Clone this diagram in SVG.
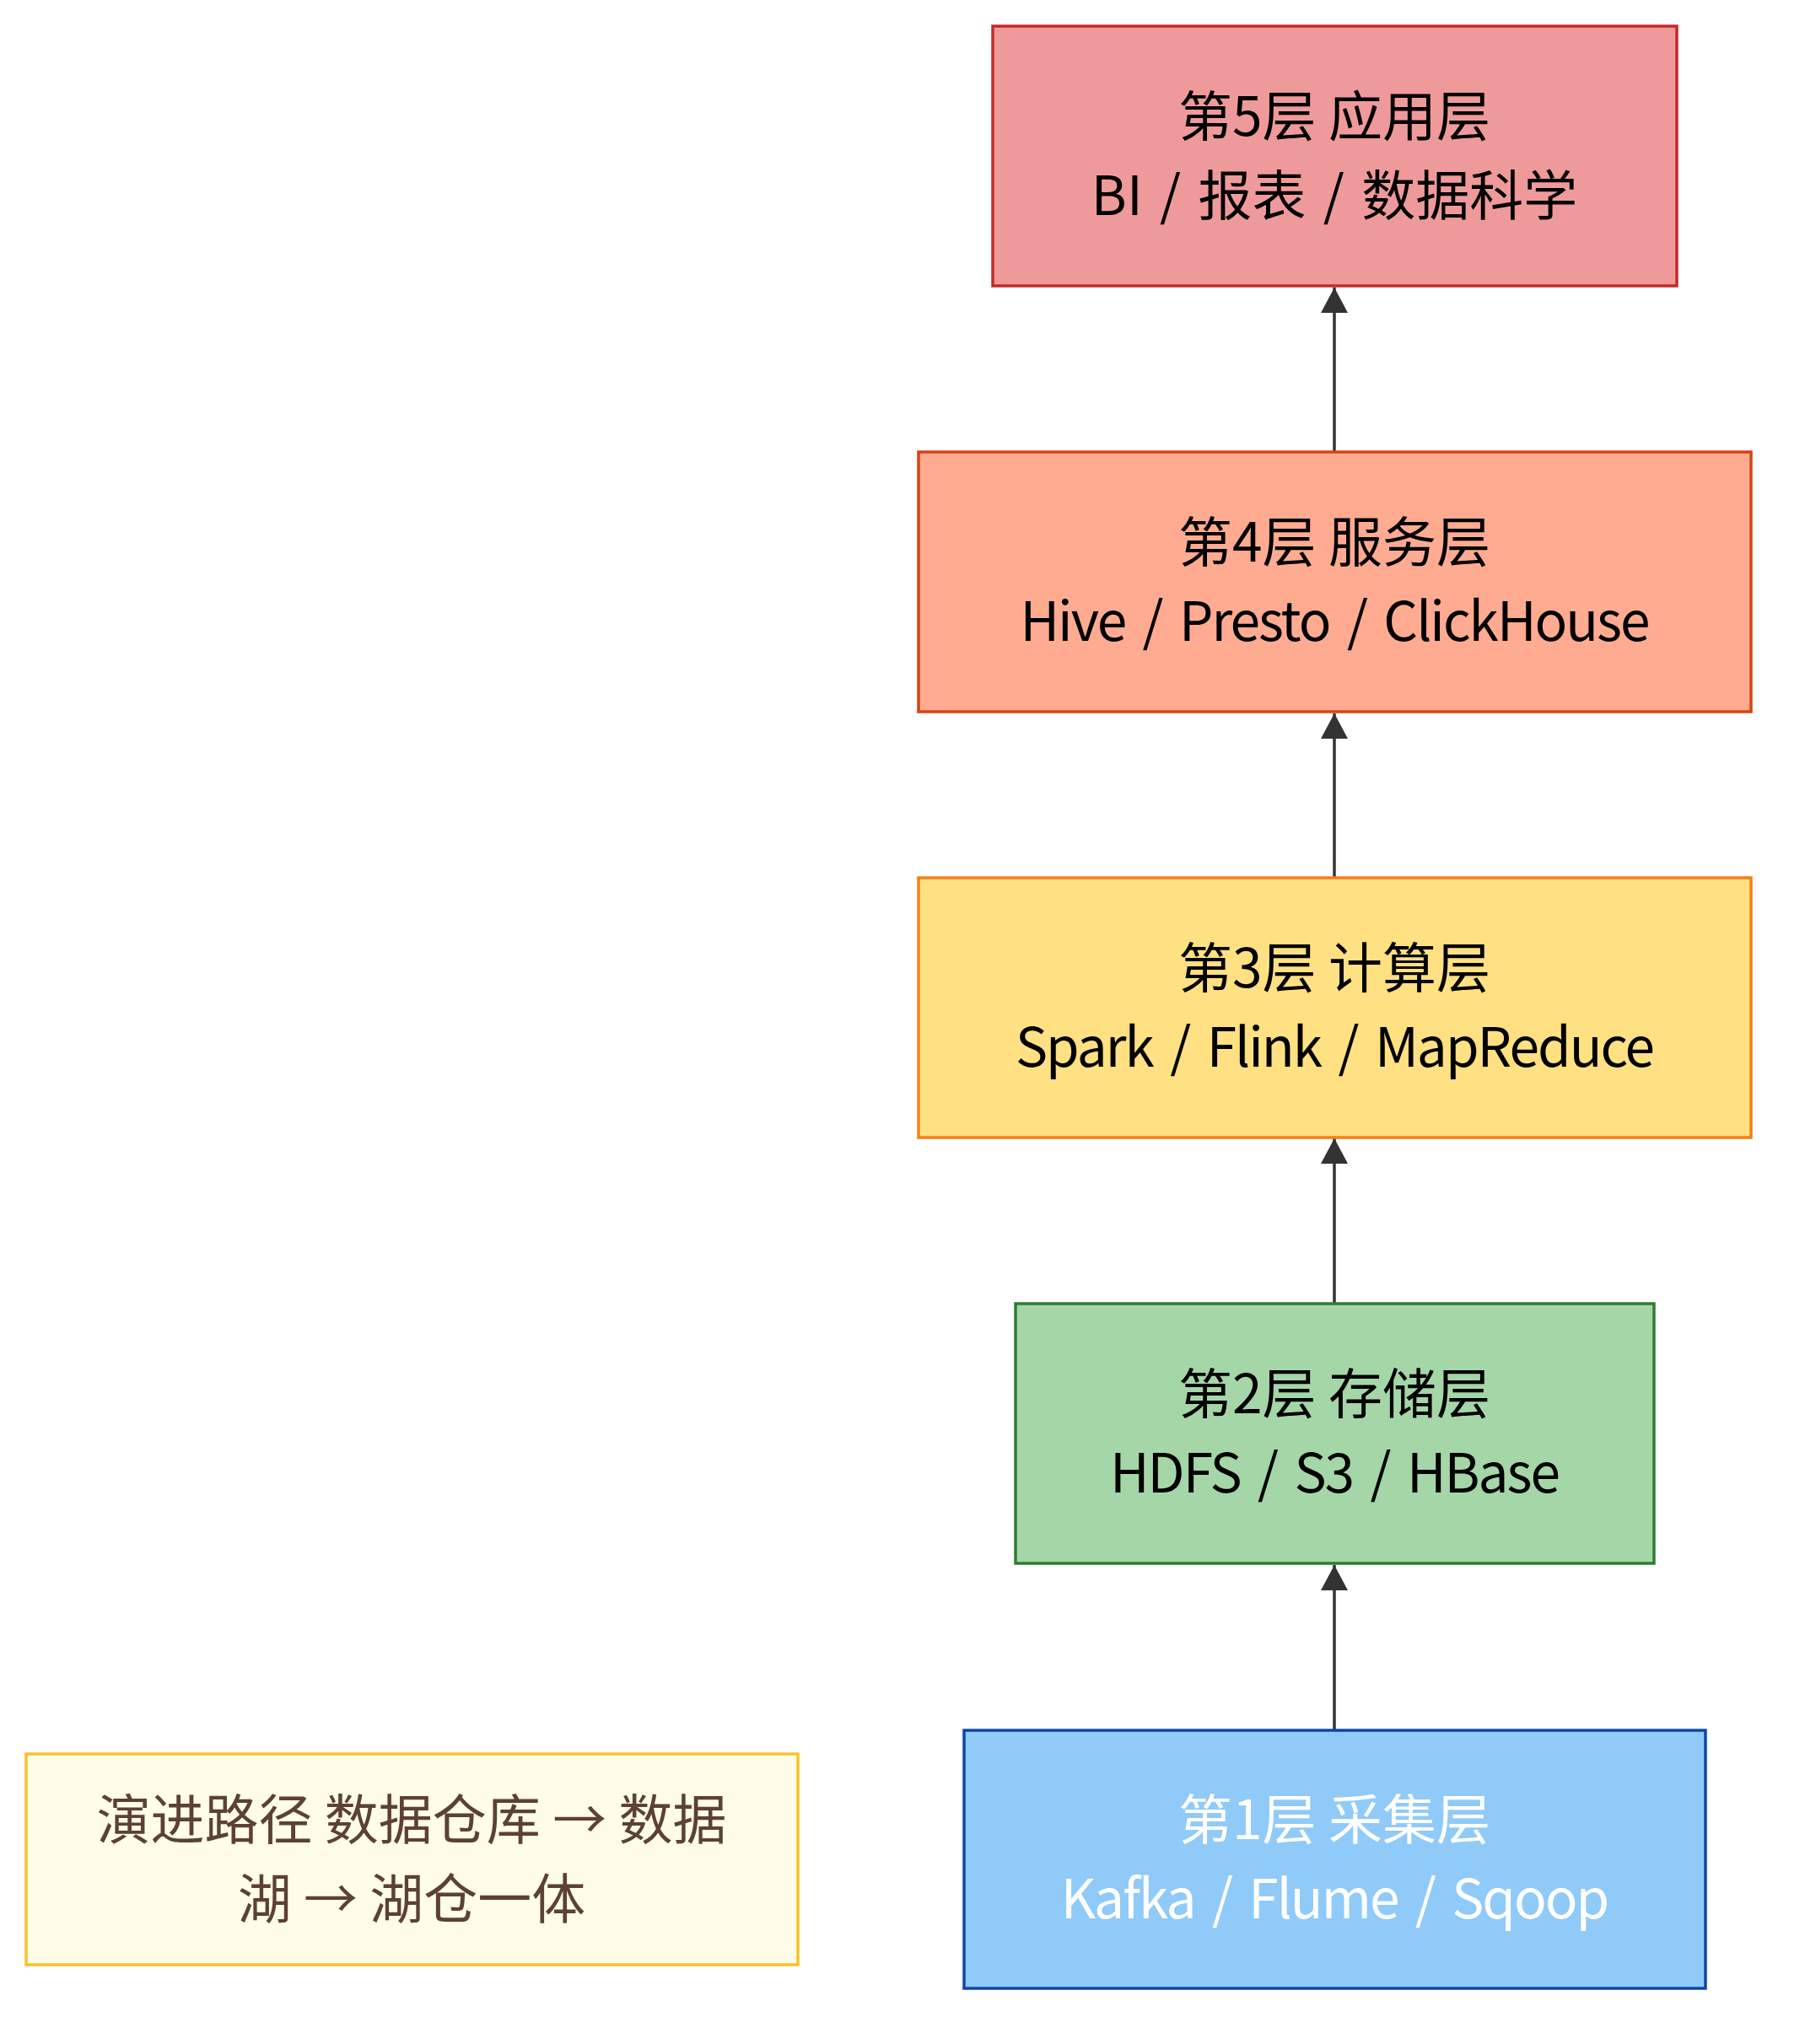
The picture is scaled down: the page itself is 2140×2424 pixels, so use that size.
<svg xmlns="http://www.w3.org/2000/svg" width="2140" height="2424" viewBox="0 0 2140 2424">
<style>
.lbl{font-family:"Noto Sans CJK SC",sans-serif;font-size:64px;text-anchor:middle;dominant-baseline:central;fill:#000}
.lat{letter-spacing:-2px;word-spacing:8px}
.mix{word-spacing:6px}
.box{stroke-width:3.5}
.edge{stroke:#333;stroke-width:3.5;fill:none}
</style>
<defs>
<marker id="arr" markerUnits="userSpaceOnUse" markerWidth="32" markerHeight="32" refX="30" refY="16" orient="auto" viewBox="0 0 32 32">
<path d="M0,0 L30,16 L0,32 z" fill="#333"/>
</marker>
</defs>
<rect width="2140" height="2424" fill="#fff"/>
<g id="edges">
<line class="edge" x1="1582" y1="2052" x2="1582" y2="1856" marker-end="url(#arr)"/>
<line class="edge" x1="1582" y1="1546" x2="1582" y2="1350" marker-end="url(#arr)"/>
<line class="edge" x1="1582" y1="1041" x2="1582" y2="846" marker-end="url(#arr)"/>
<line class="edge" x1="1582" y1="536" x2="1582" y2="341" marker-end="url(#arr)"/>
</g>
<g id="L5">
<rect class="box" x="1177" y="31" width="811" height="308" fill="#EF9A9A" stroke="#C62828"/>
<text class="lbl" x="1582" y="133">第5层 应用层</text>
<text class="lbl mix" x="1582" y="227">BI / 报表 / 数据科学</text>
</g>
<g id="L4">
<rect class="box" x="1089" y="536" width="987" height="308" fill="#FFAB91" stroke="#D84315"/>
<text class="lbl" x="1582" y="638">第4层 服务层</text>
<text class="lbl lat" x="1582" y="732">Hive / Presto / ClickHouse</text>
</g>
<g id="L3">
<rect class="box" x="1089" y="1041" width="987" height="308" fill="#FFE082" stroke="#F57F17"/>
<text class="lbl" x="1582" y="1143">第3层 计算层</text>
<text class="lbl lat" x="1582" y="1237">Spark / Flink / MapReduce</text>
</g>
<g id="L2">
<rect class="box" x="1204" y="1546" width="757" height="308" fill="#A5D6A7" stroke="#2E7D32"/>
<text class="lbl" x="1582" y="1648">第2层 存储层</text>
<text class="lbl lat" x="1582" y="1742">HDFS / S3 / HBase</text>
</g>
<g id="L1">
<rect class="box" x="1143" y="2052" width="879" height="306" fill="#90CAF9" stroke="#0D47A1"/>
<text class="lbl" x="1582" y="2153" style="fill:#fff">第1层 采集层</text>
<text class="lbl lat" x="1582" y="2247" style="fill:#fff">Kafka / Flume / Sqoop</text>
</g>
<g id="note">
<rect class="box" x="31" y="2080" width="915" height="250" fill="#FFFDE7" stroke="#FBC02D"/>
<text class="lbl" x="488" y="2153" style="fill:#5D4037">演进路径 数据仓库 → 数据</text>
<text class="lbl" x="488" y="2247" style="fill:#5D4037">湖 → 湖仓一体</text>
</g>
</svg>
